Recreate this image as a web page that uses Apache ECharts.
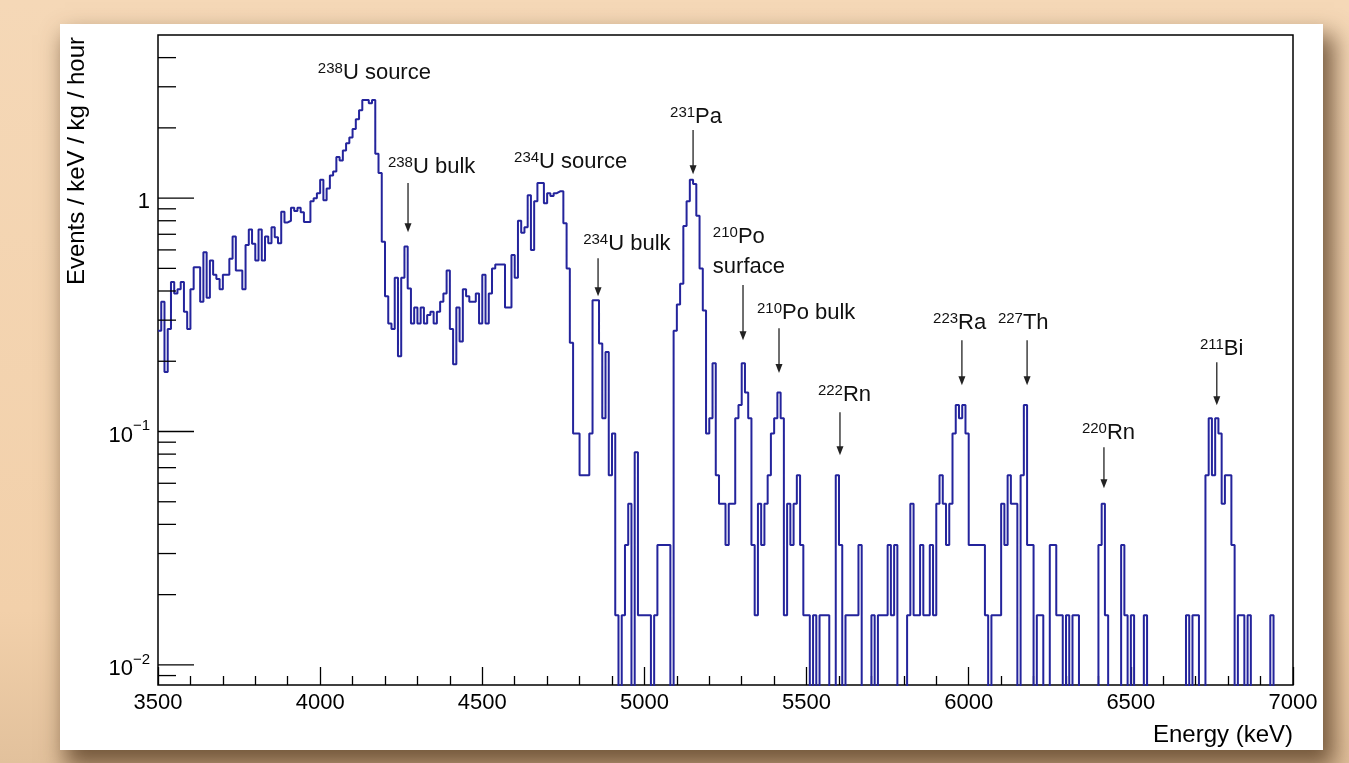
<!DOCTYPE html>
<html>
<head>
<meta charset="utf-8">
<script src="https://cdn.jsdelivr.net/npm/echarts@6/dist/echarts.min.js"></script>
<style>
  html, body { margin:0; padding:0; width:1349px; height:763px; overflow:hidden; }
  body { background: linear-gradient(180deg, #f5d8b7 0%, #f2d0aa 80%, #e2c19c 100%); position:relative; }
  #panel { position:absolute; left:60px; top:24px; width:1263px; height:726px; background:#fff;
           box-shadow: 8px 14px 22px 3px rgba(85,58,32,0.78); }
  #chart { width:1263px; height:726px; }
</style>
</head>
<body>
<div id="panel"><div id="chart"></div></div>
<script>
// ---------------- DATA ----------------
// Histogram: 10 keV bins starting at 3500 keV (Events / keV / kg / hour); 0 = empty bin
const binStartKeV = 3500;
const binWidthKeV = 10;
const rates = [
  0.27, 0.36, 0.18, 0.275, 0.437, 0.39, 0.407, 0.437, 0.326, 0.275,
  0.407, 0.506, 0.506, 0.36, 0.586, 0.374, 0.54, 0.47, 0.45, 0.407,
  0.47, 0.47, 0.55, 0.685, 0.49, 0.49, 0.407, 0.63, 0.733, 0.638,
  0.54, 0.733, 0.54, 0.685, 0.64, 0.75, 0.68, 0.64, 0.874, 0.787,
  0.8, 0.91, 0.88, 0.91, 0.87, 0.79, 0.79, 0.97, 1.0, 1.05,
  1.2, 0.98, 1.1, 1.25, 1.3, 1.5, 1.45, 1.6, 1.72, 1.82,
  1.98, 2.18, 2.38, 2.63, 2.63, 2.55, 2.63, 1.55, 1.28, 0.65,
  0.38, 0.29, 0.275, 0.456, 0.21, 0.456, 0.62, 0.41, 0.29, 0.34,
  0.29, 0.34, 0.29, 0.316, 0.326, 0.29, 0.326, 0.36, 0.39, 0.49,
  0.275, 0.194, 0.34, 0.243, 0.407, 0.38, 0.36, 0.36, 0.39, 0.29,
  0.47, 0.29, 0.39, 0.5, 0.52, 0.52, 0.52, 0.34, 0.34, 0.57,
  0.456, 0.8, 0.71, 0.75, 1.03, 0.6, 0.97, 1.16, 1.16, 0.95,
  1.05, 1.02, 1.05, 1.07, 1.07, 0.78, 0.5, 0.24, 0.098, 0.098,
  0.065, 0.065, 0.065, 0.098, 0.365, 0.365, 0.238, 0.114, 0.219, 0.065,
  0.098, 0.0163, 0, 0.0163, 0.0326, 0.049, 0, 0.0815, 0.0163, 0.0163,
  0.0163, 0.0163, 0, 0.0163, 0.0326, 0.0326, 0.0326, 0.0326, 0, 0.27,
  0.35, 0.43, 0.76, 0.97, 1.2, 1.15, 0.84, 0.5, 0.33, 0.098,
  0.114, 0.196, 0.065, 0.049, 0.049, 0.0326, 0.049, 0.049, 0.114, 0.13,
  0.196, 0.147, 0.114, 0.0326, 0.0163, 0.049, 0.0326, 0.049, 0.065, 0.098,
  0.114, 0.147, 0.114, 0.0163, 0.049, 0.0326, 0.049, 0.065, 0.0326, 0.0163,
  0.0163, 0, 0.0163, 0, 0.0163, 0.0163, 0.0163, 0, 0, 0.065,
  0.0326, 0, 0.0163, 0.0163, 0.0163, 0.0163, 0.0326, 0, 0, 0,
  0.0163, 0, 0.0163, 0.0163, 0.0163, 0.0326, 0.0163, 0.0326, 0, 0,
  0, 0.0163, 0.049, 0.0163, 0.0163, 0.0326, 0.0163, 0.0163, 0.0326, 0.0163,
  0.049, 0.065, 0.049, 0.0326, 0.049, 0.098, 0.13, 0.114, 0.13, 0.098,
  0.0326, 0.0326, 0.0326, 0.0326, 0.0326, 0.0163, 0, 0.0163, 0.0163, 0.0163,
  0.049, 0.0326, 0.065, 0.049, 0.049, 0, 0.065, 0.13, 0.0326, 0.0326,
  0, 0.0163, 0.0163, 0, 0, 0.0326, 0.0326, 0.0163, 0.0163, 0,
  0.0163, 0, 0.0163, 0.0163, 0, 0, 0, 0, 0, 0,
  0.0326, 0.049, 0.0163, 0, 0, 0, 0, 0.0326, 0.0163, 0,
  0.0163, 0, 0, 0, 0.0163, 0, 0, 0, 0, 0,
  0, 0, 0, 0, 0, 0, 0, 0.0163, 0, 0.0163,
  0.0163, 0, 0, 0.065, 0.114, 0.065, 0.114, 0.098, 0.049, 0.065,
  0.065, 0.0326, 0, 0.0163, 0.0163, 0, 0.0163, 0, 0, 0,
  0, 0, 0, 0.0163, 0, 0, 0, 0, 0, 0
];

// Axis ticks / labels
const xRange = [3500, 7000];
const yRange = [0.0082, 5.0];
const yMajorTicks = [0.01, 0.1, 1];
const yMinorTicks = [0.009, 0.02, 0.03, 0.04, 0.05, 0.06, 0.07, 0.08, 0.09,
                     0.2, 0.3, 0.4, 0.5, 0.6, 0.7, 0.8, 0.9, 2, 3, 4];
const yTickLabels = [['10', '−2'], ['10', '−1'], ['1', '']];

// Peak annotations (text)
const annSup  = ['238', '238', '234', '234', '231', '210', '210', '222', '223', '227', '220', '211'];
const annName = ['U source', 'U bulk', 'U source', 'U bulk', 'Pa', 'Po\nsurface', 'Po bulk', 'Rn', 'Ra', 'Th', 'Rn', 'Bi'];
// Annotation placement in data units: [text left keV, text centre value, arrow keV, arrow top, arrow tip] (null = no arrow)
const annLayout = [
  [3993, 3.43, null, null, null],
  [4209, 1.358, 4271, 1.16, 0.715],
  [4598, 1.427, null, null, null],
  [4811, 0.635, 4857, 0.553, 0.38],
  [5079, 2.223, 5150, 1.957, 1.267],
  [5211, 0.587, 5304, 0.424, 0.246],
  [5347, 0.3214, 5415, 0.277, 0.178],
  [5535, 0.143, 5603, 0.121, 0.0791],
  [5890, 0.291, 5979, 0.246, 0.158],
  [6090, 0.291, 6180, 0.246, 0.158],
  [6349, 0.0983, 6417, 0.0857, 0.0571],
  [6713, 0.2253, 6765, 0.198, 0.1297]
];

// ---------------- BUILD ----------------
const FONT = '"Liberation Sans", Arial, Helvetica, sans-serif';
const LINE_BLUE = '#24249c';
const EMPTY = 1e-4; // below axis minimum: empty bins drop out of the frame

const stepPoints = [];
rates.forEach((r, i) => {
  const lo = binStartKeV + i * binWidthKeV;
  const v = r > 0 ? r : EMPTY;
  stepPoints.push([lo, v], [lo + binWidthKeV, v]);
});

const tickData = yMajorTicks.map(v => [xRange[0], v, 1]).concat(yMinorTicks.map(v => [xRange[0], v, 0]));
const labelData = yMajorTicks.map((v, i) => [xRange[0], v, i]);
const annData = annLayout.map((a, i) => [a[0], a[1], i]);

const chart = echarts.init(document.getElementById('chart'), null, { renderer: 'canvas' });

chart.setOption({
  animation: false,
  backgroundColor: 'transparent',
  grid: {
    left: 98, top: 11, width: 1135, height: 650,
    show: true, borderColor: '#000', borderWidth: 1.5, backgroundColor: 'transparent',
    containLabel: false, outerBoundsMode: 'none'
  },
  xAxis: {
    type: 'value', min: xRange[0], max: xRange[1], interval: 500,
    axisLine: { show: false },
    axisTick: { show: true, inside: true, length: 18, lineStyle: { color: '#000', width: 1.3 } },
    minorTick: { show: true, splitNumber: 5, length: 9, lineStyle: { color: '#000', width: 1.3 } },
    axisLabel: { show: true, color: '#000', fontSize: 22, fontFamily: FONT, margin: 7,
                 formatter: function (v) { return String(Math.round(v)); } },
    splitLine: { show: false }, minorSplitLine: { show: false }
  },
  yAxis: {
    type: 'log', logBase: 10, min: yRange[0], max: yRange[1],
    axisLine: { show: false }, axisTick: { show: false }, axisLabel: { show: false },
    splitLine: { show: false }, minorSplitLine: { show: false }
  },
  graphic: [
    { type: 'text', x: 1233, y: 711, style: { text: 'Energy (keV)', font: '24px ' + FONT, fill: '#000', align: 'right', verticalAlign: 'middle' } },
    { type: 'text', x: 17, y: 13, rotation: Math.PI / 2,
      style: { text: 'Events / keV / kg / hour', font: '24px ' + FONT, fill: '#000', align: 'right', verticalAlign: 'middle' } }
  ],
  series: [
    {
      type: 'line', data: stepPoints, showSymbol: false, symbol: 'none', clip: true,
      lineStyle: { color: LINE_BLUE, width: 2 }, z: 3, silent: true
    },
    {
      type: 'custom', data: tickData, silent: true, z: 4,
      encode: { x: 0, y: 1 },
      renderItem: function (params, api) {
        const p = api.coord([api.value(0), api.value(1)]);
        const len = api.value(2) ? 36 : 18;
        return { type: 'line', shape: { x1: p[0], y1: p[1], x2: p[0] + len, y2: p[1] },
                 style: { stroke: '#000', lineWidth: 1.3 } };
      }
    },
    {
      type: 'custom', data: labelData, silent: true, z: 4,
      encode: { x: 0, y: 1 },
      renderItem: function (params, api) {
        const p = api.coord([api.value(0), api.value(1)]);
        const lab = yTickLabels[api.value(2)];
        const txt = lab[1] ? '{b|' + lab[0] + '}{e|' + lab[1] + '}' : '{b|' + lab[0] + '}';
        return { type: 'text', x: p[0] - 8, y: p[1] + 1,
          style: { text: txt, align: 'right', verticalAlign: 'middle', fill: '#000',
            rich: {
              b: { fontSize: 22, fontFamily: FONT, lineHeight: 28, verticalAlign: 'bottom', fill: '#000' },
              e: { fontSize: 15, fontFamily: FONT, lineHeight: 16, verticalAlign: 'top', fill: '#000' }
            } } };
      }
    },
    {
      type: 'custom', data: annData, silent: true, z: 5,
      encode: { x: 0, y: 1 },
      renderItem: function (params, api) {
        const i = params.dataIndex;
        const L = annLayout[i];
        const p = api.coord([L[0], L[1]]);
        const parts = annName[i].split('\n');
        let txt = '{s|' + annSup[i] + '}{m|' + parts[0] + '}';
        if (parts.length > 1) txt += '\n{m|' + parts[1] + '}';
        const children = [{
          type: 'text', x: p[0], y: p[1],
          style: { text: txt, align: 'left', verticalAlign: 'middle', fill: '#111',
            rich: {
              s: { fontSize: 15, fontFamily: FONT, lineHeight: 30, verticalAlign: 'top', fill: '#111', padding: [3, 0, 0, 0] },
              m: { fontSize: 22, fontFamily: FONT, lineHeight: 30, verticalAlign: 'middle', fill: '#111' }
            } }
        }];
        if (L[2] !== null) {
          const a = api.coord([L[2], L[3]]);
          const b = api.coord([L[2], L[4]]);
          const head = 9, hw = 3.5;
          children.push({ type: 'line', shape: { x1: a[0], y1: a[1], x2: b[0], y2: b[1] - head + 1 },
                          style: { stroke: '#222', lineWidth: 1.3 } });
          children.push({ type: 'polygon', shape: { points: [[b[0] - hw, b[1] - head], [b[0] + hw, b[1] - head], [b[0], b[1]]] },
                          style: { fill: '#222' } });
        }
        return { type: 'group', children: children };
      }
    }
  ]
});
</script>
</body>
</html>
